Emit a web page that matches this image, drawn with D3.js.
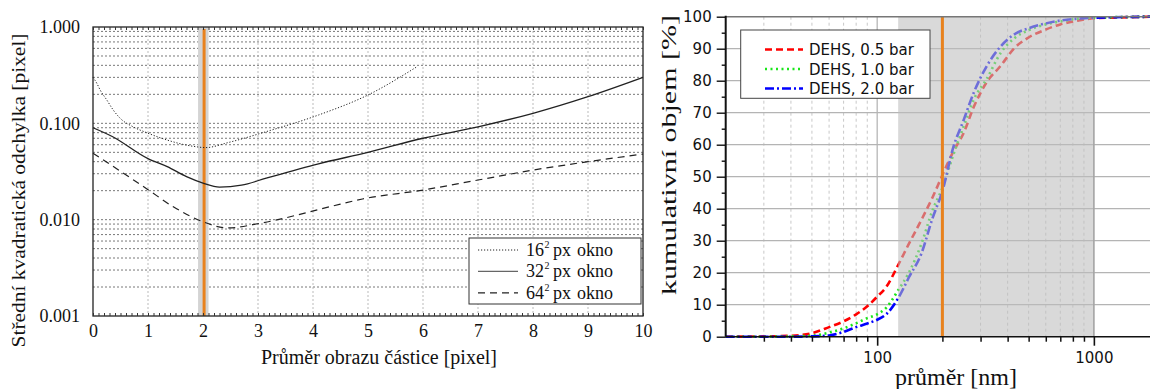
<!DOCTYPE html>
<html><head><meta charset="utf-8">
<script src="https://cdn.jsdelivr.net/npm/d3@7"></script>
<style>body{margin:0;background:#fff}svg{display:block}</style>
</head><body>
<svg id="c" width="1150" height="389"></svg>
<script>
// ---------- LEFT CHART DATA ----------
const xTicksLeft = [0,1,2,3,4,5,6,7,8,9,10];
const yTicksLeft = [1, 0.1, 0.01, 0.001];
const win16x = [0, 0.07, 0.13, 0.25, 0.37, 0.5, 0.73, 1.0, 1.35, 1.8, 2.05, 2.45, 3.15, 4.1, 5.0, 5.9];
const win16y = [0.30, 0.26, 0.222, 0.175, 0.137, 0.112, 0.092, 0.079, 0.067, 0.058, 0.056, 0.063, 0.082, 0.122, 0.197, 0.39];
const win32x = [0, 0.35, 1.0, 1.35, 1.7, 2.0, 2.3, 2.7, 3.15, 4.1, 5.0, 6.0, 7.0, 8.0, 9.0, 10];
const win32y = [0.090, 0.073, 0.043, 0.0355, 0.028, 0.024, 0.0218, 0.0228, 0.027, 0.038, 0.050, 0.070, 0.092, 0.127, 0.189, 0.30];
const win64x = [0, 0.73, 1.0, 1.46, 2.0, 2.45, 3.05, 4.3, 4.9, 6.0, 7.0, 8.0, 9.0, 10];
const win64y = [0.049, 0.026, 0.0205, 0.0136, 0.0095, 0.0082, 0.0092, 0.0136, 0.0164, 0.0203, 0.0258, 0.0327, 0.040, 0.048];
const legendLeft = ["16", "32", "64"];
const markerLeft = 2.02, bandLeft = [1.91, 2.1];

// ---------- RIGHT CHART DATA ----------
const sizes = [20, 30, 40, 50, 60, 70, 80, 90, 100, 110, 125, 140, 160, 180, 200, 225, 250, 280, 320, 370, 430, 500, 600, 700, 850, 1000, 2000];
const bar05 = [0, 0.1, 0.3, 1.1, 3.0, 4.8, 7.0, 9.5, 12.5, 15.5, 22.4, 29, 36.5, 43.5, 50.5, 58, 63.5, 72, 79.5, 84.5, 90.2, 93.5, 96, 97.6, 98.8, 99.5, 100];
const bar10 = [0, 0, 0.1, 0.3, 1.3, 2.6, 4.2, 5.8, 7.0, 9.0, 14.5, 20, 29, 39.5, 46.5, 57, 65.5, 74.3, 80.5, 88.5, 93.3, 95.8, 97.6, 98.5, 99.4, 99.7, 100];
const bar20 = [0, 0, 0, 0.1, 0.4, 1.5, 3.0, 4.1, 5.3, 7.0, 12, 18.5, 26, 37, 45.5, 59.4, 67.5, 76.5, 84.5, 90.6, 94.5, 96.4, 97.9, 98.8, 99.4, 99.7, 100];
const seriesNames = ["DEHS, 0.5 bar", "DEHS, 1.0 bar", "DEHS, 2.0 bar"];
const yTicksRight = [0,10,20,30,40,50,60,70,80,90,100];
const xTicksRight = [100, 1000];
const markerRight = 200, bandRight = [125, 1000];

const svg = d3.select("#c");
const serif = "Liberation Serif, Times New Roman, serif";
const sans = "DejaVu Sans, sans-serif";
const orange = "#e8821e";

// ================= LEFT =================
const xL = d3.scaleLinear().domain([0,10]).range([93,643]);
const yL = d3.scaleLog().domain([0.001,1]).range([316,27]);
const L = svg.append("g");

const hGrid = [];
[0.001,0.01,0.1].forEach(d => { for (let k=1;k<=9;k++) { const v=d*k; if (v>0.001 && v<1) hGrid.push(v);} });
L.selectAll(".hg").data(hGrid).join("line")
  .attr("x1", xL(0)).attr("x2", xL(10)).attr("y1", d=>yL(d)).attr("y2", d=>yL(d))
  .attr("stroke", "#555").attr("stroke-width", 0.8).attr("stroke-dasharray", "2,2");
L.selectAll(".vg").data(xTicksLeft.slice(1,-1)).join("line")
  .attr("x1", d=>xL(d)).attr("x2", d=>xL(d)).attr("y1", yL(1)).attr("y2", yL(0.001))
  .attr("stroke", "#aaa").attr("stroke-width", 0.8).attr("stroke-dasharray", "2,2");

L.append("rect").attr("x", xL(bandLeft[0])).attr("width", xL(bandLeft[1])-xL(bandLeft[0]))
  .attr("y", yL(1)).attr("height", yL(0.001)-yL(1)).attr("fill", "#d4d4d4");
L.append("line").attr("x1", xL(markerLeft)).attr("x2", xL(markerLeft)).attr("y1", yL(1)+2).attr("y2", yL(0.001))
  .attr("stroke", orange).attr("stroke-width", 3);

const lineL = d3.line().x(d=>xL(d[0])).y(d=>yL(d[1])).curve(d3.curveMonotoneX);
L.append("path").attr("d", lineL(d3.zip(win16x, win16y))).attr("fill","none")
  .attr("stroke","#222").attr("stroke-width",1).attr("stroke-dasharray","1.2,1.8");
L.append("path").attr("d", lineL(d3.zip(win32x, win32y))).attr("fill","none")
  .attr("stroke","#222").attr("stroke-width",1.3);
L.append("path").attr("d", lineL(d3.zip(win64x, win64y))).attr("fill","none")
  .attr("stroke","#222").attr("stroke-width",1.2).attr("stroke-dasharray","7,5");

L.append("rect").attr("x", xL(0)).attr("y", yL(1)).attr("width", xL(10)-xL(0)).attr("height", yL(0.001)-yL(1))
  .attr("fill","none").attr("stroke","#222").attr("stroke-width",1.3);

const minorX = d3.range(0, 10.001, 0.1);
L.append("g").attr("transform", `translate(0,${yL(0.001)})`)
  .call(d3.axisBottom(xL).tickValues(minorX).tickSize(-3).tickFormat(""))
  .call(g=>g.select(".domain").remove()).selectAll("line").attr("stroke","#333");
L.append("g").attr("transform", `translate(0,${yL(1)})`)
  .call(d3.axisTop(xL).tickValues(minorX).tickSize(-3).tickFormat(""))
  .call(g=>g.select(".domain").remove()).selectAll("line").attr("stroke","#333");

L.append("g").attr("transform", `translate(0,${yL(0.001)})`)
  .call(d3.axisBottom(xL).tickValues(xTicksLeft).tickSize(0).tickPadding(8).tickFormat(d3.format("d")))
  .call(g=>g.select(".domain").remove())
  .selectAll("text").attr("font-family", serif).attr("font-size", 18).attr("fill","#111");
L.append("g").attr("transform", `translate(${xL(0)},0)`)
  .call(d3.axisLeft(yL).tickValues(yTicksLeft).tickSize(0).tickPadding(13).tickFormat(d3.format(".3f")))
  .call(g=>g.select(".domain").remove())
  .selectAll("text").attr("font-family", serif).attr("font-size", 18).attr("fill","#111");

L.append("text").attr("x", 379).attr("y", 364).attr("text-anchor","middle")
  .attr("font-family", serif).attr("font-size", 20).attr("fill","#111")
  .text("Průměr obrazu částice [pixel]");
L.append("text").attr("transform","translate(25,190.5) rotate(-90)").attr("text-anchor","middle")
  .attr("font-family", serif).attr("font-size", 19.5).attr("fill","#111")
  .attr("textLength", 314).attr("lengthAdjust","spacingAndGlyphs")
  .text("Střední kvadratická odchylka [pixel]");

// legend
const lg = L.append("g");
lg.append("rect").attr("x",469).attr("y",238).attr("width",172).attr("height",66)
  .attr("fill","#fff").attr("stroke","#333").attr("stroke-width",1);
const dashes = ["1.2,1.8", null, "7,5"];
const widths = [1, 1.3, 1.2];
legendLeft.forEach((n,i) => {
  const yy = 250 + i*21.4;
  lg.append("line").attr("x1",478).attr("x2",518).attr("y1",yy).attr("y2",yy)
    .attr("stroke", i===1 ? "#666" : "#222").attr("stroke-width", widths[i])
    .attr("stroke-dasharray", dashes[i]);
  const t = lg.append("g").attr("font-family", serif).attr("fill","#111");
  const num = t.append("text").attr("x",526).attr("y",yy+6).attr("font-size",18).text(n);
  const w = num.node().getComputedTextLength();
  t.append("text").attr("x",526 + w + 0.5).attr("y",yy-2).attr("font-size",10).text("2");
  t.append("text").attr("x",526 + w + 9).attr("y",yy+6).attr("font-size",18).text("px");
  t.append("text").attr("x",526 + w + 33).attr("y",yy+6).attr("font-size",18).text("okno");
});

// ================= RIGHT =================
const xR = d3.scaleLog().domain([20,2000]).range([725.7, 725.7 + 216.7*2]);
const yR = d3.scaleLinear().domain([0,100]).range([336.7,16.7]);
const R = svg.append("g");

const minorR = [];
[10,100,1000].forEach(d => { for (let k=2;k<=9;k++) { const v=d*k; if (v>20 && v<2000 && v!==100 && v!==1000) minorR.push(v);} });
R.selectAll(".mv").data(minorR).join("line")
  .attr("x1", d=>xR(d)).attr("x2", d=>xR(d)).attr("y1", yR(100)).attr("y2", yR(0))
  .attr("stroke","#c8c8c8").attr("stroke-width",1).attr("stroke-dasharray","3,3");
R.selectAll(".Mv").data(xTicksRight).join("line")
  .attr("x1", d=>xR(d)).attr("x2", d=>xR(d)).attr("y1", yR(100)).attr("y2", yR(0))
  .attr("stroke", "#b0b0b0").attr("stroke-width",1.2);
R.selectAll(".hg").data(yTicksRight.slice(1,-1)).join("line")
  .attr("x1", xR(20)).attr("x2", 1150).attr("y1", d=>yR(d)).attr("y2", d=>yR(d))
  .attr("stroke","#b4b4b4").attr("stroke-width",1.2);

const lineR = d3.line().x(d=>xR(d[0])).y(d=>yR(d[1])).curve(d3.curveMonotoneX);
const colors = ["#ff0000", "#19e619", "#0000ff"];
const dashR = ["7,4", "2,3.5", "9,3,2,3"];
[bar05, bar10, bar20].forEach((s,i) => {
  R.append("path").attr("d", lineR(d3.zip(sizes, s))).attr("fill","none")
    .attr("stroke", colors[i]).attr("stroke-width", 2.6).attr("stroke-dasharray", dashR[i]);
});

R.append("rect").attr("x", xR(bandRight[0])).attr("width", xR(bandRight[1])-xR(bandRight[0]))
  .attr("y", yR(100)).attr("height", yR(0)-yR(100)).attr("fill","#bebebe").attr("opacity",0.58);
R.append("line").attr("x1", xR(bandRight[1])).attr("x2", xR(bandRight[1])).attr("y1", yR(100)).attr("y2", yR(0))
  .attr("stroke","#a0a0a0").attr("stroke-width",1.2);

R.append("line").attr("x1", xR(markerRight)).attr("x2", xR(markerRight)).attr("y1", yR(100)).attr("y2", yR(0))
  .attr("stroke", orange).attr("stroke-width", 3);

R.append("line").attr("x1", xR(20)).attr("x2", 1150).attr("y1", yR(100)).attr("y2", yR(100))
  .attr("stroke","#777").attr("stroke-width",1.5);

const xMinorTicks = [30,40,50,60,70,80,90,200,300,400,500,600,700,800,900];
R.append("g").attr("transform", `translate(0,${yR(0)})`)
  .call(d3.axisBottom(xR).tickValues(xMinorTicks).tickSize(5).tickFormat(""))
  .call(g=>g.select(".domain").remove()).selectAll("line").attr("stroke","#111").attr("stroke-width",1.5);
R.append("g").attr("transform", `translate(0,${yR(0)})`)
  .call(d3.axisBottom(xR).tickValues(xTicksRight).tickSize(9).tickPadding(7).tickFormat(d3.format("d")))
  .call(g=>g.select(".domain").remove())
  .call(g=>g.selectAll("line").attr("stroke","#111").attr("stroke-width",1.6))
  .selectAll("text").attr("font-family", sans).attr("font-size", 15).attr("fill","#111");
R.append("line").attr("x1", xR(20)).attr("x2", 1150).attr("y1", yR(0)).attr("y2", yR(0))
  .attr("stroke","#111").attr("stroke-width",1.6);

R.append("g").attr("transform", `translate(${xR(20)},0)`)
  .call(d3.axisLeft(yR).tickValues(d3.range(5,100,10)).tickSize(4).tickFormat(""))
  .call(g=>g.select(".domain").remove()).selectAll("line").attr("stroke","#111").attr("stroke-width",1.4);
R.append("g").attr("transform", `translate(${xR(20)},0)`)
  .call(d3.axisLeft(yR).tickValues(yTicksRight).tickSize(9).tickPadding(5))
  .call(g=>g.select(".domain").remove())
  .call(g=>g.selectAll("line").attr("stroke","#111").attr("stroke-width",1.4))
  .selectAll("text").attr("font-family", sans).attr("font-size", 15).attr("fill","#111");
R.append("line").attr("x1", xR(20)).attr("x2", xR(20)).attr("y1", yR(100)-1).attr("y2", yR(0))
  .attr("stroke","#111").attr("stroke-width",2);

R.append("text").attr("x", 956).attr("y", 385).attr("text-anchor","middle")
  .attr("font-family", serif).attr("font-size", 24).attr("fill","#111").text("průměr [nm]");
R.append("text").attr("transform","translate(676,155) rotate(-90)").attr("text-anchor","middle")
  .attr("font-family", serif).attr("font-size", 21).attr("fill","#111")
  .attr("textLength", 280).attr("lengthAdjust","spacingAndGlyphs")
  .text("kumulativní objem [%]");

const lr = R.append("g");
lr.append("rect").attr("x",740.7).attr("y",30).attr("width",189.3).attr("height",68.3)
  .attr("fill","#fff").attr("stroke","#444").attr("stroke-width",1);
seriesNames.forEach((n,i) => {
  const yy = 49.5 + i*19.5;
  lr.append("line").attr("x1",765).attr("x2",803).attr("y1",yy).attr("y2",yy)
    .attr("stroke", colors[i]).attr("stroke-width",2.6).attr("stroke-dasharray", dashR[i]);
  lr.append("text").attr("x",809).attr("y",yy+5.5).attr("font-family", sans).attr("font-size",15)
    .attr("fill","#111").text(n);
});
</script>
</body></html>
